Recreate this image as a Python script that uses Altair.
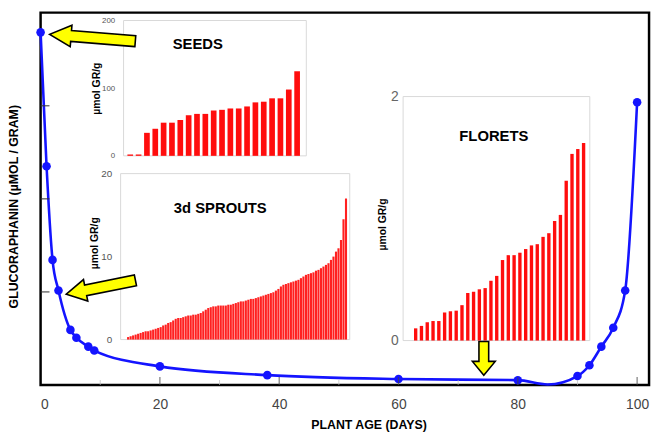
import altair as alt
import pandas as pd

# ---------------- data ----------------
# main curve: glucoraphanin vs plant age (arbitrary units, axis unlabeled)
age = [0, 1, 2, 3, 5, 6, 8, 9, 20, 38, 60, 80, 85, 90, 92, 94, 96, 98, 100]
gluco = [189.4, 117.5, 67.2, 50.8, 29.6, 25.4, 20.6, 18.5, 10.0, 5.3, 3.2, 2.6, 0.3,
         4.8, 10.6, 20.6, 30.7, 50.8, 151.9]
has_marker = [1, 1, 1, 1, 1, 1, 1, 1, 1, 1, 1, 1, 0, 1, 1, 1, 1, 1, 1]

x_tick_labels = [0, 20, 40, 60, 80, 100]
x_minor_ticks = [10, 30, 50, 70, 90]
y_ticks = [50, 100, 150]

# inset: seeds (µmol GR/g)
seeds = [2, 2, 34, 40, 49, 49, 53, 60, 62, 62, 67, 68, 70, 70, 73, 79, 80, 85, 85, 98, 125]
seeds_ticks = [0, 100, 200]

# inset: 3d sprouts (µmol GR/g)
sprouts = [0.3, 0.4, 0.5, 0.6, 0.7, 0.8, 0.9, 1.0, 1.0, 1.1, 1.2, 1.3,
           1.4, 1.5, 1.7, 1.8, 2.0, 2.1, 2.3, 2.5, 2.6, 2.6, 2.7, 2.8,
           2.9, 2.9, 3.0, 3.0, 3.1, 3.2, 3.4, 3.6, 3.8, 3.9, 4.0, 4.0,
           4.1, 4.1, 4.1, 4.1, 4.2, 4.2, 4.3, 4.4, 4.5, 4.6, 4.6, 4.7,
           4.8, 4.9, 4.9, 5.0, 5.1, 5.2, 5.3, 5.4, 5.5, 5.6, 5.7, 5.9,
           6.1, 6.4, 6.6, 6.7, 6.8, 6.9, 7.0, 7.1, 7.2, 7.4, 7.6, 7.8,
           7.9, 8.0, 8.1, 8.3, 8.4, 8.6, 8.8, 9.0, 9.2, 9.6, 10.0, 10.6,
           11.0, 12.0, 14.5, 17.0]
sprouts_ticks = [0, 10, 20]

# inset: florets (µmol GR/g)
florets = [0.10, 0.12, 0.15, 0.16, 0.16, 0.23, 0.24, 0.245, 0.29, 0.39, 0.40, 0.42,
           0.43, 0.49, 0.53, 0.66, 0.70, 0.70, 0.72, 0.75, 0.78, 0.79, 0.85, 0.88,
           0.98, 1.03, 1.31, 1.53, 1.57, 1.62]
florets_ticks = [0, 1, 2]

# ---------------- style ----------------
FONT = "Liberation Sans"
BLUE = "#1414ff"
RED = "#ff0d0d"
W, H = 616, 377


def inset(values, ymax, ticks, xdom, xrange, yrange, half, name, name_pos,
          lab_size, lab_pad, lab_color, title_y, title_pad, bar_color):
    n = len(values)
    df = pd.DataFrame({"i": list(range(1, n + 1)), "v": values})
    xs = alt.Scale(domain=xdom, range=xrange, nice=False, zero=False)
    ys = alt.Scale(domain=[0, ymax], range=yrange, nice=False, zero=False)
    ax_kw = dict(orient="left", offset=-xrange[0], values=ticks, format="d", domain=False,
                 ticks=False, grid=False, labelFont=FONT, labelFontSize=lab_size,
                 labelPadding=lab_pad, labelColor=lab_color, title="µmol GR/g",
                 titleFont=FONT, titleFontSize=10.5, titleFontWeight="bold",
                 titleColor="black", titlePadding=title_pad)
    if title_y is not None:
        ax_kw["titleY"] = title_y
    yax = alt.Axis(**ax_kw)
    frame_df = pd.DataFrame({"a": [xdom[0]], "b": [xdom[1]], "c": [0], "d": [ymax]})
    frame = alt.Chart(frame_df).mark_rect(fill="white", stroke="#d8d8d8", strokeWidth=1).encode(
        x=alt.X("a:Q", scale=xs, axis=None), x2="b:Q",
        y=alt.Y("c:Q", scale=ys, axis=yax), y2="d:Q")
    bars = alt.Chart(df).transform_calculate(
        lo=f"datum.i - {half}", hi=f"datum.i + {half}", z="0"
    ).mark_rect(color=bar_color).encode(
        x=alt.X("lo:Q", scale=xs, axis=None), x2="hi:Q",
        y=alt.Y("v:Q", scale=ys, axis=yax), y2="z:Q")
    tdf = pd.DataFrame({"x": [name_pos[0]], "y": [name_pos[1]], "t": [name]})
    txt = alt.Chart(tdf).mark_text(font=FONT, fontSize=15, fontWeight="bold", color="black").encode(
        x=alt.X("x:Q", scale=xs, axis=None), y=alt.Y("y:Q", scale=ys, axis=yax), text="t:N")
    return alt.layer(frame, bars, txt)


seeds_chart = inset(seeds, 200, seeds_ticks, [0.2, 22.1], [84, 269], [145, 8], 0.34,
                    "SEEDS", (9.1, 165), 8, 9, "#555555", None, 0, RED)
sprouts_chart = inset(sprouts, 20, sprouts_ticks, [-2, 89.5], [81, 313], [331, 163], 0.42,
                      "3d SPROUTS", (37.8, 15.8), 10, 9, "#555555", 233, 1, "#ff2020")
florets_chart = inset(florets, 2, florets_ticks, [-1.17, 31.07], [367, 556], [332, 85], 0.29,
                      "FLORETS", (14.5, 1.68), 14, 5, "#666666", 214, 3, RED)

# ---------------- main chart ----------------
main_df = pd.DataFrame({"age": age, "gr": gluco, "m": has_marker})
xs_main = alt.Scale(domain=[0, 102], nice=False, zero=False)
ys_main = alt.Scale(domain=[0, 200], nice=False, zero=False)
xax = alt.Axis(orient="bottom", values=x_tick_labels, domain=False, ticks=False, grid=False,
               labelFont=FONT, labelFontSize=14, labelColor="#444444", labelPadding=13,
               title="PLANT AGE (DAYS)", titleFont=FONT, titleFontSize=12.5,
               titleFontWeight="bold", titleColor="black", titleX=332, titlePadding=7)
yax = alt.Axis(orient="left", labels=False, domain=False, ticks=False, grid=False,
               title="GLUCORAPHANIN (µMOL / GRAM)", titleFont=FONT, titleFontSize=12.5,
               titleFontWeight="bold", titleColor="black", titlePadding=20, titleY=196)

X = alt.X("age:Q", scale=xs_main, axis=xax)
Y = alt.Y("gr:Q", scale=ys_main, axis=yax)

line = alt.Chart(main_df).mark_line(color=BLUE, strokeWidth=2.6, interpolate="monotone").encode(x=X, y=Y)
pts = alt.Chart(main_df).transform_filter("datum.m == 1").mark_circle(
    color=BLUE, size=75, opacity=1).encode(x=X, y=Y)

tick_df_major = pd.DataFrame({"age": x_tick_labels[1:]})
tick_df_minor = pd.DataFrame({"age": x_minor_ticks})
ytick_df = pd.DataFrame({"gr": y_ticks})
xt_major = alt.Chart(tick_df_major).mark_tick(orient="vertical", size=8, thickness=1.2,
                                              color="#444444").encode(x=X, y=alt.value(H - 4))
xt_minor = alt.Chart(tick_df_minor).mark_tick(orient="vertical", size=5, thickness=1,
                                              color="#bbbbbb").encode(x=X, y=alt.value(H - 2.5))
yt = alt.Chart(ytick_df).mark_tick(orient="horizontal", size=9, thickness=1.5,
                                   color="#333333").encode(y=Y, x=alt.value(4.5))


def arrow_path(hs, hh, hl):
    b = 1 - hl
    return (f"M -1 {-hs} L {b} {-hs} L {b} {-hh} L 1 0 L {b} {hh} "
            f"L {b} {hs} L -1 {hs} Z")


# arrows: midpoint (age, gluco units), angle, length
arrow_age = [8.7, 10.1, 74.3]
arrow_gr = [186.5, 52.5, 14.3]
arrow_specs = [
    (arrow_path(0.126, 0.25, 0.5), 184.6, 7569),
    (arrow_path(0.154, 0.31, 0.56), 168.7, 5098),
    (arrow_path(0.29, 0.68, 0.82), 90, 1156),
]
arrows = []
for k, (path, ang, sz) in enumerate(arrow_specs):
    adf = pd.DataFrame({"age": [arrow_age[k]], "gr": [arrow_gr[k]]})
    arrows.append(alt.Chart(adf).mark_point(
        shape=path, angle=ang, size=sz, filled=True, fill="#ffff00", stroke="black",
        strokeWidth=1.6, opacity=1, fillOpacity=1, strokeOpacity=1).encode(x=X, y=Y))

main = alt.layer(line, pts, xt_major, xt_minor, yt, *arrows)

chart = alt.layer(seeds_chart, sprouts_chart, florets_chart, main).resolve_scale(
    x="independent", y="independent"
).properties(
    width=W, height=H,
    autosize=alt.AutoSizeParams(type="none"),
    padding={"left": 33, "top": 2, "right": 4, "bottom": 52},
).configure(background="white", font=FONT).configure_view(stroke="black", strokeWidth=2.5)

chart.save("out.html", embed_options={"renderer": "svg", "actions": False})
